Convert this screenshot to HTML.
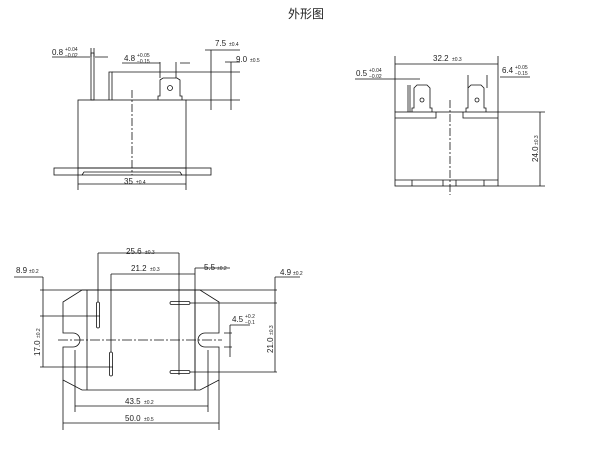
<!DOCTYPE html>
<html><head><meta charset="utf-8"><style>
html,body{margin:0;padding:0;background:#fff;width:612px;height:451px;overflow:hidden}
svg{display:block}
text{font-family:"Liberation Sans",sans-serif;fill:#222}
.s{font-size:5px}
</style></head><body>
<svg width="612" height="451" viewBox="0 0 612 451" xmlns="http://www.w3.org/2000/svg">
<text x="306" y="18" font-size="12" text-anchor="middle" style="font-family:'Liberation Sans','Noto Sans CJK SC',sans-serif">外形图</text>
<g stroke="#111" stroke-width="0.8" fill="none">
<!-- top-left view -->
<rect x="78" y="100" width="108" height="68"/>
<rect x="54" y="168" width="157" height="7"/>
<path d="M82 175 L84 172 L180 172 L182 175"/>
<rect x="91" y="53" width="3" height="47"/>
<path d="M109 100 V72 H112 V100"/>
<path d="M112 72 H240"/>
<path d="M158 100 V96 H160 V80 L163 78 H177 L180 80 V96 H182 V100"/>
<circle cx="170" cy="88" r="2.5"/>
<path d="M186 100 H240 M211 50 V110 M231 62 V110 M205 50 H240 M225 62 H240"/>
<path d="M52 57 H90 M95 57 H108 M122 63 H160 M180 63 H190 M91 48 V57 M94 48 V57 M160 62 V78 M176 62 V78"/>
<path d="M132 90 V175" stroke-dasharray="8,2,2,2"/>
<path d="M78 168 V190 M186 168 V190 M78 184 H186"/>
<!-- top-right view -->
<rect x="395" y="112" width="103" height="74"/>
<path d="M395 118 H436 V112 M463 112 V118 H498 M395 180 H498 M412 180 V186 M443 180 V186 M456 180 V186 M484 180 V186"/>
<path d="M408 112 V85 M410 112 V85"/>
<path d="M412 112 V108 H414 V88 L417 85 H427 L430 88 V108 H432 V112"/>
<path d="M466 112 V108 H468 V88 L471 85 H481 L484 88 V108 H486 V112"/>
<circle cx="422" cy="100" r="2"/><circle cx="477" cy="100" r="2"/>
<path d="M395 56 V112 M498 56 V112 M395 64 H498 M355 79 H420 M500 77 H530 M468 75 V88 M487 75 V88 M498 112 H545 M498 186 H545 M540 112 V186"/>
<path d="M450 100 V195" stroke-dasharray="8,2,2,2"/>
<!-- bottom view -->
<path d="M82 290 H200 L219 302 V333 H205 A7 7 0 0 0 205 347 H219 V380 L200 390 H82 L63 380 V347 H73 A7 7 0 0 0 73 333 H63 V302 Z"/>
<path d="M87 290 V390 M195 290 V390"/>
<path d="M40 290 H277 M14 277 H43 M43 277 V367 M40 316 H100 M40 367 H113 M275 277 H300 M275 277 V372 M190 303 H277 M190 372 H277"/>
<rect x="96.5" y="302" width="3" height="26" rx="1.5"/>
<rect x="109.5" y="352" width="3" height="24" rx="1.5"/>
<rect x="170" y="301.5" width="20" height="3" rx="1.5"/>
<rect x="170" y="370.5" width="20" height="3" rx="1.5"/>
<path d="M98 253 H179 M98 253 V302 M179 253 V375 M111 274 H195 M111 274 V352 M195 268 H230 M195 268 V390"/>
<path d="M230 325 H250 M230 325 V357 M224 333 H232 M224 347 H232"/>
<path d="M58 340 H222" stroke-dasharray="10,2,2,2"/>
<path d="M75 350 V412 M208 350 V412 M75 406 H208 M63 380 V430 M219 380 V430 M63 423 H219"/>
</g>
<g class="t" font-size="8">
<text x="52" y="55">0.8</text><text x="65" y="51" class="s">+0.04</text><text x="65" y="57" class="s">−0.02</text>
<text x="124" y="61">4.8</text><text x="137" y="57" class="s">+0.05</text><text x="137" y="63" class="s">−0.15</text>
<text x="215" y="46">7.5</text><text x="229" y="46" class="s">±0.4</text>
<text x="236" y="62">9.0</text><text x="250" y="62" class="s">±0.5</text>
<text x="124" y="184">35</text><text x="136" y="184" class="s">±0.4</text>
<text x="433" y="61">32.2</text><text x="452" y="61" class="s">±0.3</text>
<text x="356" y="76">0.5</text><text x="369" y="72" class="s">+0.04</text><text x="369" y="78" class="s">−0.02</text>
<text x="502" y="73">6.4</text><text x="515" y="69" class="s">+0.05</text><text x="515" y="75" class="s">−0.15</text>
<text transform="translate(538,162) rotate(-90)">24.0</text><text class="s" transform="translate(538,145) rotate(-90)">±0.3</text>
<text x="126" y="254">25.6</text><text x="145" y="254" class="s">±0.3</text>
<text x="131" y="271">21.2</text><text x="150" y="271" class="s">±0.3</text>
<text x="204" y="270">5.5</text><text x="217" y="270" class="s">±0.2</text>
<text x="16" y="273">8.9</text><text x="29" y="273" class="s">±0.2</text>
<text x="280" y="275">4.9</text><text x="293" y="275" class="s">±0.2</text>
<text x="232" y="322">4.5</text><text x="245" y="318" class="s">+0.2</text><text x="245" y="324" class="s">−0.1</text>
<text transform="translate(40,356) rotate(-90)">17.0</text><text class="s" transform="translate(40,338) rotate(-90)">±0.2</text>
<text transform="translate(273,353) rotate(-90)">21.0</text><text class="s" transform="translate(273,335) rotate(-90)">±0.3</text>
<text x="125" y="404">43.5</text><text x="144" y="404" class="s">±0.2</text>
<text x="125" y="421">50.0</text><text x="144" y="421" class="s">±0.5</text>
</g>
</svg>
</body></html>
